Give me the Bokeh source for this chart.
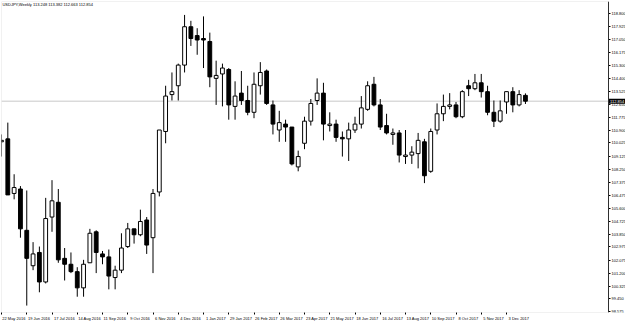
from bokeh.plotting import figure
from bokeh.models import (Range1d, LinearAxis, FixedTicker, Label, NumeralTickFormatter,
                          ColumnDataSource, BoxAnnotation)
from bokeh.embed import file_html
from bokeh.resources import INLINE

# ---- data (weekly USDJPY bars) ----
weeks = [
    "2016-05-22", "2016-05-29", "2016-06-05", "2016-06-12", "2016-06-19", "2016-06-26",
    "2016-07-03", "2016-07-10", "2016-07-17", "2016-07-24", "2016-07-31", "2016-08-07",
    "2016-08-14", "2016-08-21", "2016-08-28", "2016-09-04", "2016-09-11", "2016-09-18",
    "2016-09-25", "2016-10-02", "2016-10-09", "2016-10-16", "2016-10-23", "2016-10-30",
    "2016-11-06", "2016-11-13", "2016-11-20", "2016-11-27", "2016-12-04", "2016-12-11",
    "2016-12-18", "2016-12-25",
    "2017-01-01", "2017-01-08", "2017-01-15", "2017-01-22", "2017-01-29", "2017-02-05",
    "2017-02-12", "2017-02-19", "2017-02-26", "2017-03-05", "2017-03-12", "2017-03-19",
    "2017-03-26", "2017-04-02", "2017-04-09", "2017-04-16", "2017-04-23", "2017-04-30",
    "2017-05-07", "2017-05-14", "2017-05-21", "2017-05-28", "2017-06-04", "2017-06-11",
    "2017-06-18", "2017-06-25", "2017-07-02", "2017-07-09", "2017-07-16", "2017-07-23",
    "2017-07-30", "2017-08-06", "2017-08-13", "2017-08-20", "2017-08-27", "2017-09-03",
    "2017-09-10", "2017-09-17", "2017-09-24", "2017-10-01", "2017-10-08", "2017-10-15",
    "2017-10-22", "2017-10-29", "2017-11-05", "2017-11-12", "2017-11-19", "2017-11-26",
    "2017-12-03", "2017-12-10", "2017-12-17", "2017-12-24",
]
opens = [
    110.1, 110.3, 106.6, 106.9, 104.1, 101.7, 102.6, 100.6, 105.0, 106.0, 102.2, 101.8,
    101.3, 100.2, 101.9, 104.0, 102.5, 102.3, 100.9, 101.4, 103.0, 104.2, 103.8, 104.8,
    103.6, 106.7, 110.8, 113.3, 113.9, 115.3, 117.9, 117.3,
    117.1, 116.9, 114.4, 114.7, 115.0, 112.5, 113.4, 112.9, 112.1, 113.9, 114.9, 112.6,
    110.9, 111.3, 111.1, 108.4, 110.0, 111.5, 112.9, 113.4, 111.2, 111.3, 110.4, 110.3,
    110.9, 111.3, 112.3, 114.0, 112.6, 111.2, 110.6, 110.7, 109.1, 109.2, 109.3, 110.1,
    108.1, 110.9, 112.0, 112.5, 112.6, 111.8, 113.9, 113.7, 114.1, 113.5, 112.1, 111.5,
    112.8, 113.5, 112.6, 113.248,
]
highs = [
    110.6, 111.4, 107.9, 107.1, 106.8, 103.3, 103.0, 106.3, 107.5, 106.9, 102.9, 102.6,
    101.6, 102.1, 104.2, 104.1, 102.7, 102.8, 101.7, 103.9, 104.6, 104.2, 105.5, 105.0,
    106.9, 110.9, 113.9, 114.8, 115.4, 118.7, 118.3, 117.8,
    118.6, 117.5, 115.6, 115.4, 115.1, 114.2, 114.9, 113.9, 114.8, 115.5, 115.0, 112.9,
    112.2, 111.6, 111.1, 109.5, 111.8, 113.0, 114.4, 114.1, 112.1, 111.6, 110.8, 111.4,
    111.8, 113.2, 114.2, 114.5, 113.0, 112.0, 111.0, 110.9, 110.9, 109.8, 110.7, 110.3,
    111.0, 112.7, 113.3, 113.4, 112.8, 113.6, 114.3, 114.7, 114.7, 113.9, 112.9, 112.9,
    113.5, 113.8, 113.6, 113.382,
]
lows = [
    109.1, 106.5, 106.2, 103.6, 99.0, 101.4, 99.9, 100.5, 104.0, 101.9, 100.7, 101.2,
    99.6, 99.6, 101.9, 101.2, 101.8, 100.1, 100.1, 101.2, 102.9, 103.2, 103.7, 102.5,
    101.2, 106.4, 110.0, 112.9, 112.9, 114.8, 116.6, 116.0,
    115.1, 113.8, 112.6, 112.5, 111.6, 111.6, 112.6, 111.9, 111.7, 113.3, 112.6, 110.6,
    110.1, 110.1, 108.5, 108.1, 109.6, 111.2, 112.6, 110.2, 110.8, 110.1, 109.1, 108.8,
    110.7, 111.0, 112.2, 112.5, 110.9, 110.6, 109.9, 108.7, 108.6, 108.6, 108.3, 107.3,
    108.0, 110.6, 111.5, 112.3, 111.7, 111.7, 113.2, 113.6, 113.1, 111.9, 111.1, 111.4,
    112.0, 112.1, 112.5, 112.663,
]
closes = [
    110.2, 106.5, 107.0, 104.2, 102.2, 102.5, 100.6, 104.9, 106.1, 102.1, 101.8, 101.3,
    100.2, 101.8, 103.9, 102.6, 102.3, 101.0, 101.4, 102.9, 104.2, 103.8, 104.7, 103.1,
    106.6, 110.9, 113.2, 113.5, 115.3, 117.9, 117.1, 117.0,
    117.0, 114.5, 114.6, 115.1, 112.6, 113.2, 112.9, 112.1, 114.0, 114.8, 112.7, 111.3,
    111.4, 111.1, 108.6, 109.1, 111.5, 112.7, 113.4, 111.3, 111.3, 110.4, 110.3, 110.9,
    111.3, 112.4, 113.9, 112.6, 111.1, 110.7, 110.7, 109.2, 109.2, 109.4, 110.2, 107.8,
    110.8, 112.0, 112.5, 112.6, 111.8, 113.5, 113.7, 114.1, 113.5, 112.1, 111.5, 112.2,
    113.5, 112.6, 113.3, 112.854,
]
date_labels = [
    "22 May 2016", "19 Jun 2016", "17 Jul 2016", "14 Aug 2016", "11 Sep 2016",
    "9 Oct 2016", "6 Nov 2016", "4 Dec 2016", "1 Jan 2017", "29 Jan 2017",
    "26 Feb 2017", "26 Mar 2017", "23 Apr 2017", "21 May 2017", "18 Jun 2017",
    "16 Jul 2017", "13 Aug 2017", "10 Sep 2017", "8 Oct 2017", "5 Nov 2017",
    "3 Dec 2017",
]
price_ticks = [
    98.575, 99.450, 100.325, 101.200, 102.075, 102.975, 103.850, 104.725, 105.600,
    106.475, 107.375, 108.250, 109.125, 110.025, 110.900, 111.775, 112.650, 113.525,
    114.400, 115.300, 116.175, 117.050, 117.925, 118.800,
]
last_price = 112.854
title_text = "USDJPY,Weekly  113.248 113.382 112.663 112.854"

# ---- derived ----
idx = list(range(len(weeks)))
up = [c >= o for o, c in zip(opens, closes)]
src = ColumnDataSource(dict(
    x=idx, o=opens, h=highs, l=lows, c=closes,
    top=[max(o, c) for o, c in zip(opens, closes)],
    bot=[min(o, c) for o, c in zip(opens, closes)],
    fill=["white" if u else "black" for u in up],
))
tick_idx = list(range(0, len(weeks), 4))[:len(date_labels)]

FONT = "Liberation Sans"
X0, X1 = 0.0, 98.85        # visible bar range (frame spans the full width)
X_AX = 96.16               # where the price scale sits
Y0, Y1 = 98.53, 119.61
LBL_SHIFT = 1.95

p = figure(width=625, height=323, output_backend="svg", toolbar_location=None,
           x_range=Range1d(X0, X1), y_range=Range1d(Y0, Y1),
           x_axis_location=None, y_axis_location=None,
           min_border_left=1, min_border_top=1, min_border_right=0, min_border_bottom=10,
           background_fill_color="white", border_fill_color="white")
p.outline_line_color = None
p.xgrid.visible = False
p.ygrid.visible = False

# chart area border
p.add_layout(BoxAnnotation(left=X0, right=X_AX, bottom=Y0, top=Y1, fill_alpha=0,
                           line_color="#a0a0a0", line_width=1))

# current price line
p.segment(x0=[X0], y0=[last_price], x1=[X_AX], y1=[last_price], line_color="#c8c8c8", line_width=1)

# candles
p.segment(x0="x", y0="l", x1="x", y1="h", source=src, line_color="black", line_width=1)
p.vbar(x="x", width=0.6, top="top", bottom="bot", source=src,
       fill_color="fill", line_color="black", line_width=1)

# price scale
ax_r = LinearAxis(fixed_location=X_AX, ticker=FixedTicker(ticks=price_ticks),
                  formatter=NumeralTickFormatter(format="0.000"),
                  major_tick_out=2, major_tick_in=0, minor_tick_out=0, minor_tick_in=0,
                  major_label_standoff=1, major_label_text_font_size="4px",
                  major_label_text_font=FONT, major_label_text_color="black",
                  axis_line_color="black", major_tick_line_color="black")
p.add_layout(ax_r, "right")

# last price marker on the price scale
p.add_layout(Label(x=X_AX, y=last_price, text=f"{last_price:.3f}", x_offset=0.5,
                   text_font_size="4px", text_font=FONT, text_color="white",
                   text_baseline="middle", text_align="left",
                   background_fill_color="black", padding=1))

# bottom axis: tick marks
ax_t = LinearAxis(ticker=FixedTicker(ticks=tick_idx), major_tick_out=2, major_tick_in=0,
                  minor_tick_out=0, minor_tick_in=0, major_label_text_font_size="0px",
                  major_label_text_alpha=0, major_label_standoff=0,
                  axis_line_color=None, major_tick_line_color="black")
p.add_layout(ax_t, "below")

# bottom axis: date labels (label text starts at its tick, as in the terminal)
p.extra_x_ranges = {"lbl": Range1d(X0 - LBL_SHIFT, X1 - LBL_SHIFT)}
ax_l = LinearAxis(x_range_name="lbl", ticker=FixedTicker(ticks=tick_idx),
                  major_label_overrides={t: s for t, s in zip(tick_idx, date_labels)},
                  major_tick_out=0, major_tick_in=0, minor_tick_out=0, minor_tick_in=0,
                  major_label_standoff=1, major_label_text_font_size="4px",
                  major_label_text_font=FONT, major_label_text_color="black",
                  axis_line_color=None, major_tick_line_color=None)
p.add_layout(ax_l, "below")

# chart caption
p.add_layout(Label(x=X0 + 0.15, y=119.39, text=title_text, text_font_size="4px",
                   text_font=FONT, text_color="black", text_baseline="middle", text_align="left"))

open("out.html", "w").write(file_html(p, INLINE))
